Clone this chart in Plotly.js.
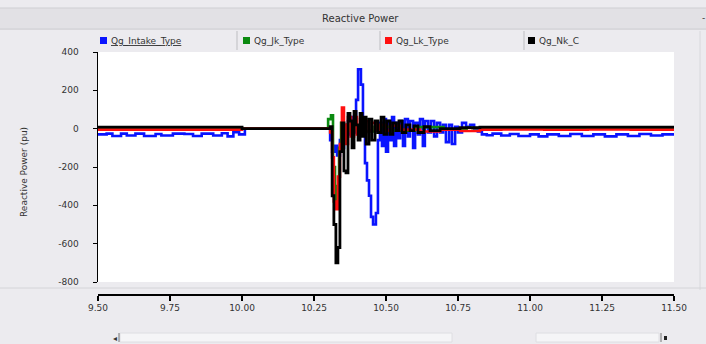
<!DOCTYPE html>
<html>
<head>
<meta charset="utf-8">
<script src="https://cdn.plot.ly/plotly-3.0.1.min.js"></script>
<style>html,body{margin:0;padding:0;background:#ecebef;}#chart{width:706px;height:344px;}</style>
</head>
<body>
<div id="chart"></div>
<script>
// ---------- DATA ----------
const chartTitle = "Reactive Power";
const yTitle = "Reactive Power (pu)";
const seriesNames = ["Qg_Intake_Type", "Qg_Jk_Type", "Qg_Lk_Type", "Qg_Nk_C"];
const seriesColors = ["#0a14ff", "#0b8a10", "#ff1010", "#000000"];

const yTickVals = [400, 200, 0, -200, -400, -600, -800];
const yTickText = ["400", "200", "0", "-200", "-400", "-600", "-800"];
const xTickVals = [9.50, 9.75, 10.00, 10.25, 10.50, 10.75, 11.00, 11.25, 11.50];
const xTickText = ["9.50", "9.75", "10.00", "10.25", "10.50", "10.75", "11.00", "11.25", "11.50"];

const blueT = [9.50,9.53,9.55,9.58,9.60,9.63,9.66,9.70,9.72,9.76,9.80,9.83,9.86,9.90,9.93,9.95,9.97,9.99,10.01,
  10.306,10.313,10.323,10.330,10.340,10.347,10.354,10.361,10.368,10.375,10.382,10.389,10.396,10.403,10.413,10.420,
  10.427,10.434,10.441,10.448,10.455,10.465,10.472,10.479,10.486,10.493,10.500,10.507,10.514,10.521,10.528,10.535,
  10.542,10.549,10.559,10.566,10.576,10.583,10.594,10.601,10.611,10.618,10.628,10.635,10.646,10.656,10.667,10.677,
  10.688,10.698,10.708,10.719,10.729,10.740,10.750,10.764,10.778,10.792,10.806,10.819,10.833,
  10.85,10.87,10.90,10.93,10.96,11.00,11.03,11.06,11.10,11.14,11.18,11.22,11.26,11.30,11.34,11.38,11.42,11.46,11.50];
const blueV = [-30,-26,-38,-26,-36,-26,-38,-28,-36,-26,-28,-38,-26,-36,-24,-40,-18,-30,0,
  -60,-120,-90,-140,-60,-100,20,-40,40,-30,60,-20,150,310,230,50,
  -180,-270,-350,-460,-500,-440,-60,30,-90,50,-120,40,-60,60,-90,30,
  -50,40,-90,50,-40,40,-100,30,-30,50,-90,40,-20,40,-40,30,
  -20,20,-70,20,-80,10,-20,30,10,20,0,-15,-30,
  -34,-26,-36,-28,-38,-30,-40,-30,-38,-28,-38,-30,-40,-30,-38,-28,-36,-30,-30];

const greenT = [9.50,10.00,10.299,10.309,10.316,10.323,10.330,10.337,10.344,10.354,10.365,10.375,10.39,10.42,10.46,10.52,10.60,10.70,10.78,10.80,11.50];
const greenV = [4,0,50,70,-200,-400,-300,-100,30,-40,20,-10,15,-15,10,-10,8,-5,5,3,3];

const redT = [9.50,10.00,10.306,10.313,10.319,10.326,10.333,10.340,10.347,10.354,10.361,10.368,10.378,10.389,10.399,
  10.410,10.420,10.431,10.441,10.451,10.465,10.479,10.497,10.514,10.549,10.618,10.688,10.757,10.826,10.90,11.05,11.20,11.35,11.50];
const redV = [-5,0,-20,-150,-380,-420,-250,-80,110,20,-80,60,-40,60,-30,
  50,-20,40,-10,30,-10,20,-10,15,-5,-15,-5,-12,-5,-4,-6,-4,-5,-5];

const blackT = [9.50,10.00,10.306,10.313,10.319,10.326,10.333,10.340,10.347,10.354,10.361,10.368,10.375,10.382,10.389,
  10.396,10.403,10.410,10.417,10.424,10.431,10.441,10.451,10.462,10.472,10.483,10.493,10.503,10.514,10.524,10.535,
  10.545,10.556,10.569,10.583,10.597,10.611,10.632,10.653,10.688,10.757,10.826,11.50];
const blackV = [8,0,10,-350,-500,-700,-620,-120,30,-220,-230,80,40,-100,90,
  20,-60,80,-40,60,-80,50,-60,40,-20,60,-30,40,-30,30,-10,
  40,-20,20,-10,15,-20,10,-10,0,5,8,8];

// ---------- CHART ----------
const seriesT = [blueT, greenT, redT, blackT];
const seriesV = [blueV, greenV, redV, blackV];
const traces = seriesNames.map((n, i) => ({
  x: seriesT[i], y: seriesV[i], name: n, type: "scatter", mode: "lines",
  line: {color: seriesColors[i], width: i === 3 ? 2.8 : 2.6, shape: "hv"}, showlegend: false,
  hoverinfo: "skip"
}));

const L = 98, R = 674, T = 52, B = 294;
const X = px => (px - L) / (R - L);
const Y = py => (B - py) / (B - T);
const shapes = [];
const annotations = [];
const font = {family: "DejaVu Sans, Arial, sans-serif", size: 9, color: "#333"};

// title band
shapes.push({type: "rect", xref: "paper", yref: "paper", x0: X(0), x1: X(706), y0: Y(8), y1: Y(28), fillcolor: "#e2e1e5", line: {width: 0}, layer: "below"});
shapes.push({type: "line", xref: "paper", yref: "paper", x0: X(0), x1: X(706), y0: Y(8), y1: Y(8), line: {color: "#cfcfd3", width: 1}});
shapes.push({type: "line", xref: "paper", yref: "paper", x0: X(0), x1: X(706), y0: Y(29), y1: Y(29), line: {color: "#c4c4c8", width: 1}});
annotations.push({xref: "paper", yref: "paper", x: X(360), y: Y(18), text: chartTitle, showarrow: false, font: Object.assign({}, font, {size: 10}), xanchor: "center", yanchor: "middle"});
annotations.push({xref: "paper", yref: "paper", x: X(703), y: Y(18), text: "-", showarrow: false, font: font, xanchor: "center", yanchor: "middle"});

// legend strip
const legX = [100, 243, 385, 528];
const sepX = [237, 380, 524];
sepX.forEach(s => shapes.push({type: "line", xref: "paper", yref: "paper", x0: X(s), x1: X(s), y0: Y(31), y1: Y(50), line: {color: "#bdbdc1", width: 1}}));
shapes.push({type: "line", xref: "paper", yref: "paper", x0: X(700), x1: X(700), y0: Y(31), y1: Y(290), line: {color: "#d8d8dc", width: 1}});
seriesNames.forEach((n, i) => {
  shapes.push({type: "rect", xref: "paper", yref: "paper", x0: X(legX[i]), x1: X(legX[i] + 7), y0: Y(37), y1: Y(44), fillcolor: seriesColors[i], line: {width: 0}});
  annotations.push({xref: "paper", yref: "paper", x: X(legX[i] + 9), y: Y(41), text: i === 0 ? "<u>" + n + "</u>" : n, showarrow: false, font: font, xanchor: "left", yanchor: "middle"});
});

// separator below plot
shapes.push({type: "line", xref: "paper", yref: "paper", x0: X(0), x1: X(706), y0: Y(288), y1: Y(288), line: {color: "#d4d4d8", width: 1}});

// y title
annotations.push({xref: "paper", yref: "paper", x: X(24), y: Y(172), text: yTitle, textangle: -90, showarrow: false, font: font, xanchor: "center", yanchor: "middle"});

// scrollbar
shapes.push({type: "rect", xref: "paper", yref: "paper", x0: X(120), x1: X(452), y0: Y(333), y1: Y(342), fillcolor: "#f5f5f7", line: {color: "#dedee2", width: 1}});
shapes.push({type: "rect", xref: "paper", yref: "paper", x0: X(536), x1: X(659), y0: Y(333), y1: Y(342), fillcolor: "#f5f5f7", line: {color: "#dedee2", width: 1}});
shapes.push({type: "line", xref: "paper", yref: "paper", x0: X(119), x1: X(119), y0: Y(333), y1: Y(342), line: {color: "#777", width: 1}});
shapes.push({type: "line", xref: "paper", yref: "paper", x0: X(661), x1: X(661), y0: Y(333), y1: Y(342), line: {color: "#777", width: 1}});
shapes.push({type: "rect", xref: "paper", yref: "paper", x0: X(664), x1: X(667), y0: Y(336), y1: Y(340), fillcolor: "#222", line: {width: 0}});
annotations.push({xref: "paper", yref: "paper", x: X(115), y: Y(338), text: "◂", showarrow: false, font: {family: "DejaVu Sans", size: 8, color: "#333"}, xanchor: "center", yanchor: "middle"});

const layout = {
  width: 706, height: 344,
  margin: {l: L, r: 706 - R, t: T, b: 344 - B, pad: 0},
  paper_bgcolor: "#ecebef",
  plot_bgcolor: "#ffffff",
  font: font,
  showlegend: false,
  xaxis: {
    range: [9.5, 11.5], anchor: "free", position: 0,
    tickvals: xTickVals, ticktext: xTickText,
    showline: true, linecolor: "#000", linewidth: 1.5,
    ticks: "outside", ticklen: 5, tickcolor: "#000", tickwidth: 1.5,
    showgrid: false, zeroline: false, tickfont: font, fixedrange: true
  },
  yaxis: {
    range: [-800, 400], domain: [Y(282), 1],
    tickvals: yTickVals, ticktext: yTickText,
    showline: true, linecolor: "#000", linewidth: 1.5,
    ticks: "outside", ticklen: 4, tickcolor: "#000",
    ticklabelstandoff: 12,
    showgrid: false, zeroline: false, tickfont: font, fixedrange: true
  },
  shapes: shapes,
  annotations: annotations
};

Plotly.newPlot("chart", traces, layout, {displayModeBar: false, staticPlot: true});
</script>
</body>
</html>
